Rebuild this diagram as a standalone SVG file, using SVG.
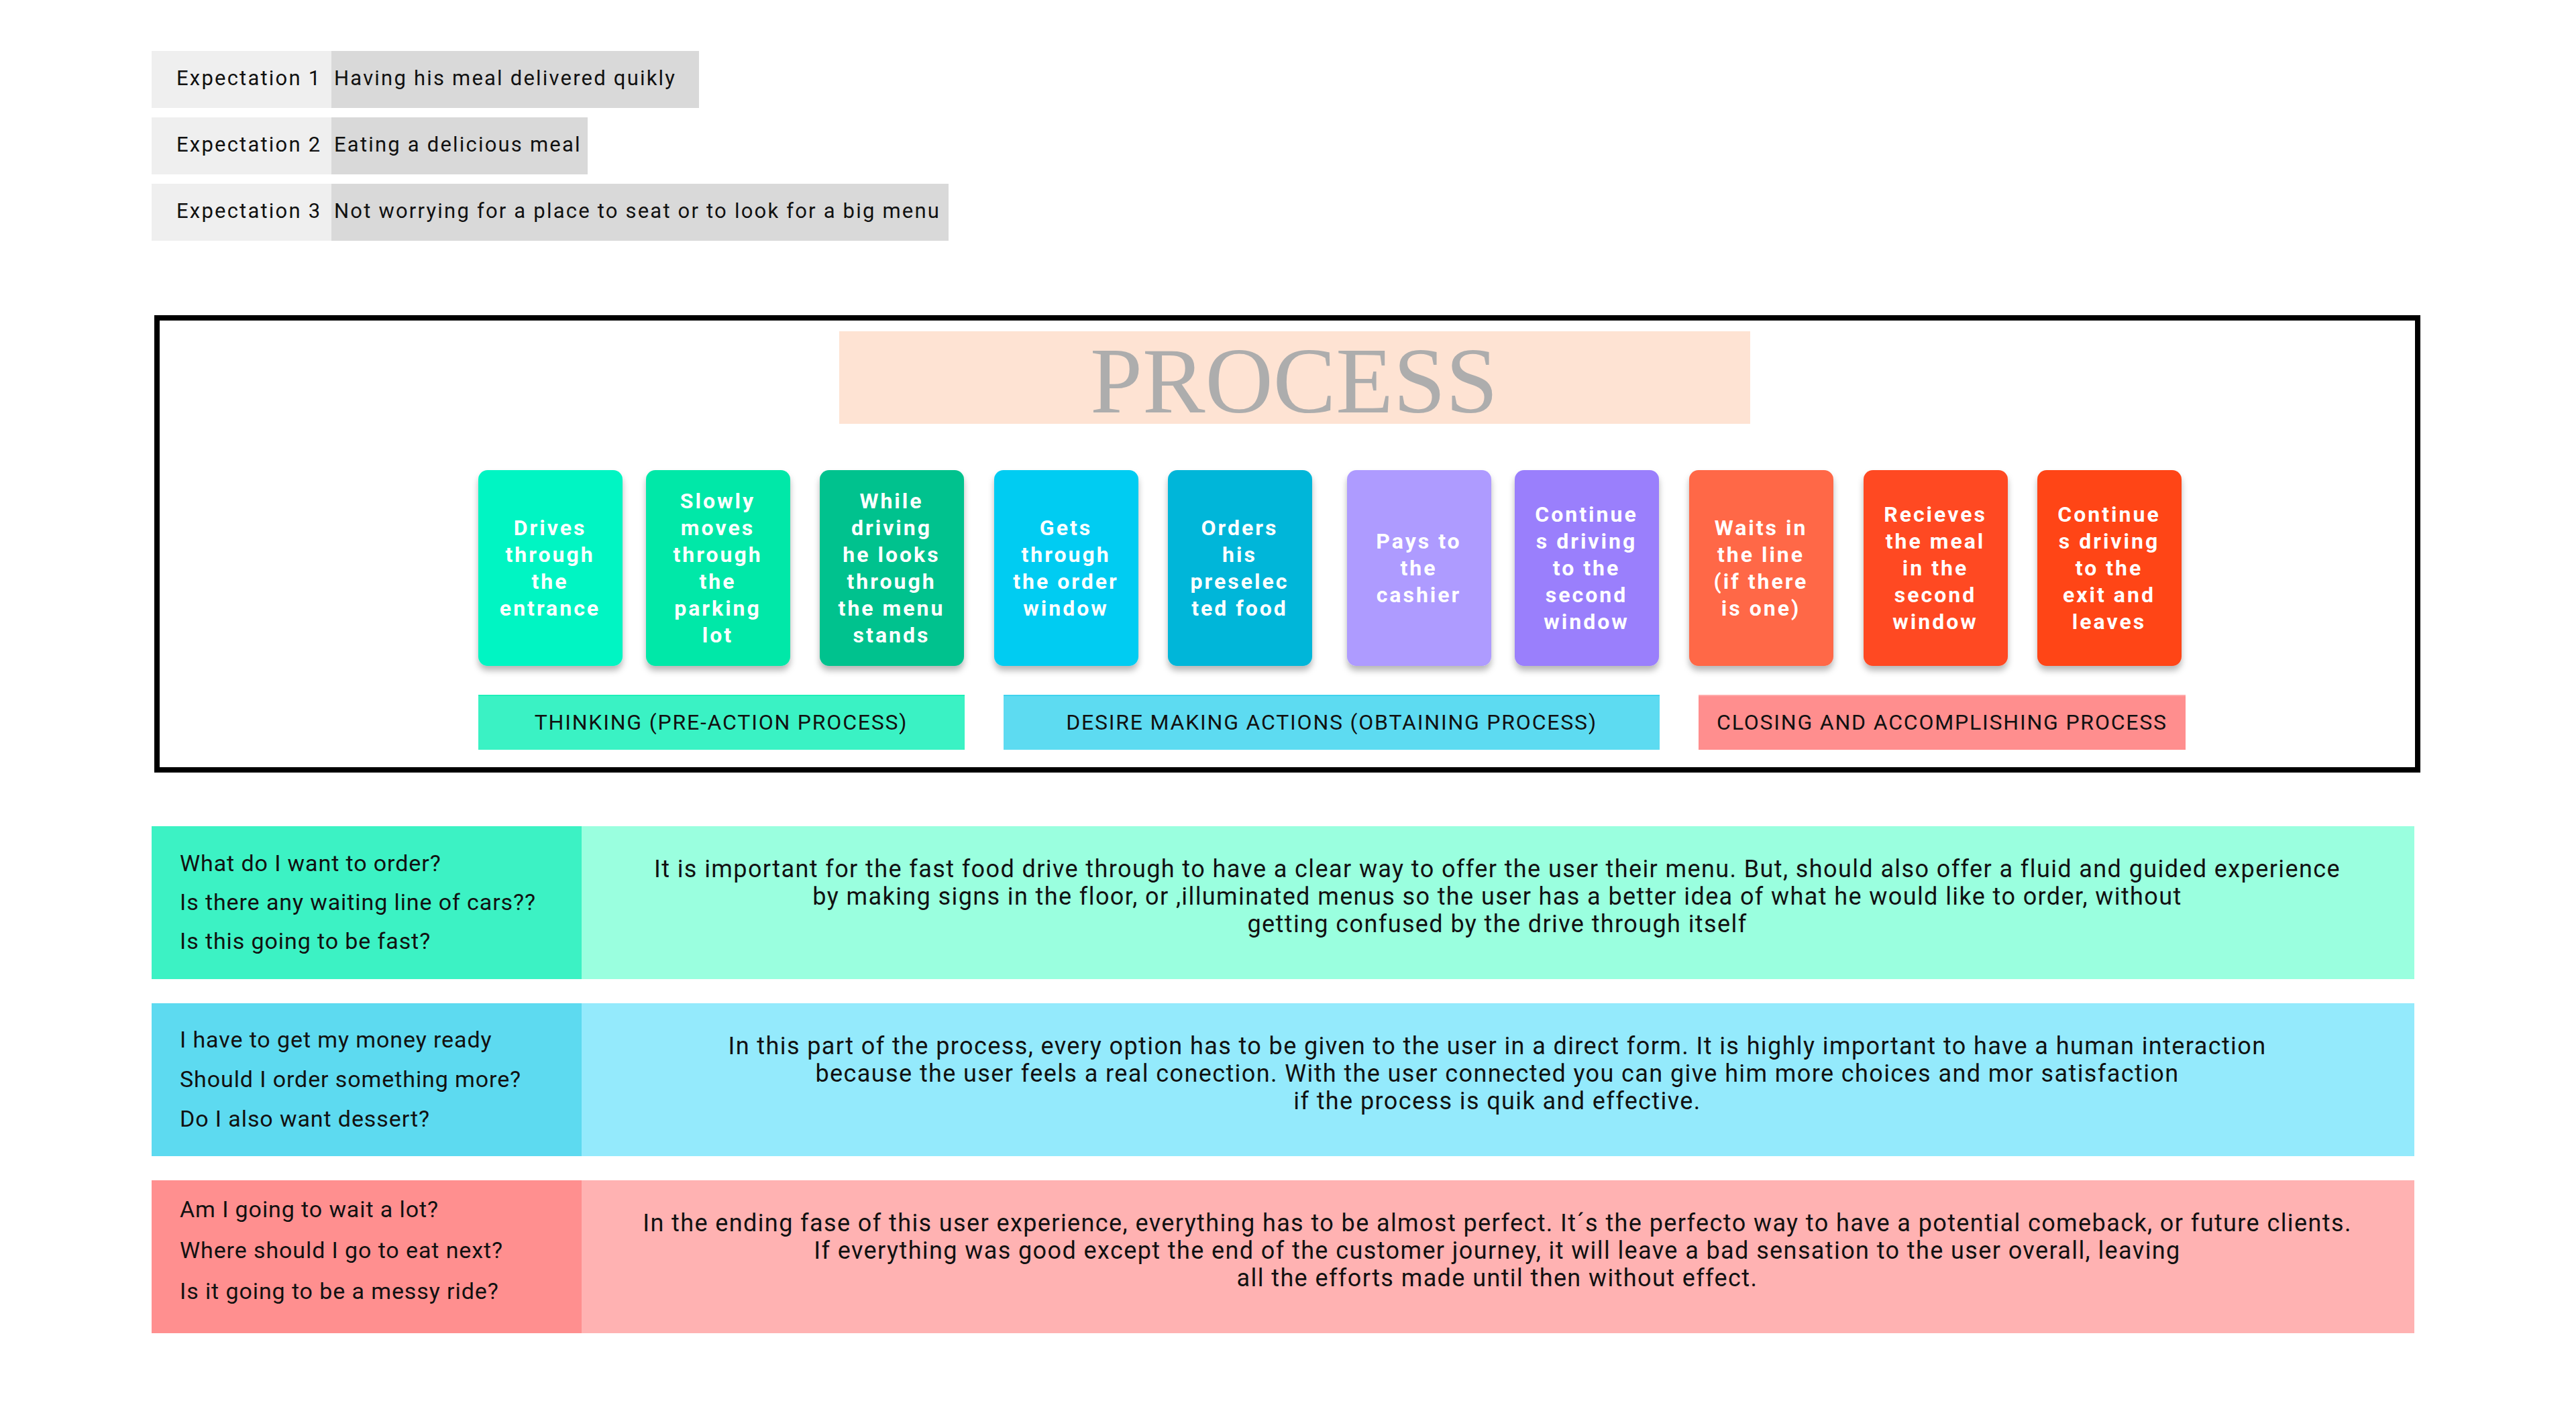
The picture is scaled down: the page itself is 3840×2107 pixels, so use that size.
<svg xmlns="http://www.w3.org/2000/svg" width="3840" height="2107" viewBox="0 0 3840 2107">
<style>
.exp{font-family:Roboto,"Liberation Sans",sans-serif;font-size:31px;fill:#111;letter-spacing:2.2px}
.card text{font-family:Roboto,"Liberation Sans",sans-serif;font-weight:bold;font-size:32px;fill:#fff;letter-spacing:3px;text-anchor:middle}
.bar{font-family:Roboto,"Liberation Sans",sans-serif;font-size:32px;fill:#111;letter-spacing:1.8px;text-anchor:middle}
.q{font-family:Roboto,"Liberation Sans",sans-serif;font-size:34px;fill:#111;letter-spacing:0.9px}
.body{font-family:Roboto,"Liberation Sans",sans-serif;font-size:36px;fill:#111;letter-spacing:1.4px;text-anchor:middle}
</style>
<defs>
<filter id="sh" x="-20%" y="-20%" width="140%" height="150%">
<feDropShadow dx="0" dy="7" stdDeviation="5" flood-color="#000" flood-opacity="0.28"/>
</filter>
</defs>
<rect width="3840" height="2107" fill="#fff"/>

<g id="expectations">
<g id="exp1">
<rect x="226" y="76" width="268" height="85" fill="#efefef"/>
<rect x="494" y="76" width="548" height="85" fill="#d9d9d9"/>
<text class="exp" x="263" y="127">Expectation 1</text>
<text class="exp" x="498" y="127">Having his meal delivered quikly</text>
</g>
<g id="exp2">
<rect x="226" y="175" width="268" height="85" fill="#efefef"/>
<rect x="494" y="175" width="382" height="85" fill="#d9d9d9"/>
<text class="exp" x="263" y="226">Expectation 2</text>
<text class="exp" x="498" y="226">Eating a delicious meal</text>
</g>
<g id="exp3">
<rect x="226" y="274" width="268" height="85" fill="#efefef"/>
<rect x="494" y="274" width="920" height="85" fill="#d9d9d9"/>
<text class="exp" x="263" y="325">Expectation 3</text>
<text class="exp" x="498" y="325">Not worrying for a place to seat or to look for a big menu</text>
</g>
</g>

<g id="process-frame">
<rect x="234" y="474" width="3370" height="674" fill="none" stroke="#000" stroke-width="8"/>
<rect x="1251" y="494" width="1358" height="138" fill="#fee3d3"/>
<text x="1929" y="615" font-family="'Liberation Serif',serif" font-size="139" fill="#adadad" text-anchor="middle" textLength="608" lengthAdjust="spacingAndGlyphs">PROCESS</text>
</g>

<g id="cards">
<g id="card1" class="card">
<rect x="713" y="701" width="215" height="292" rx="14" fill="#00f5c3" filter="url(#sh)"/>
<text x="820" y="798">Drives</text><text x="820" y="838">through</text><text x="820" y="878">the</text><text x="820" y="918">entrance</text>
</g>
<g id="card2" class="card">
<rect x="963" y="701" width="215" height="292" rx="14" fill="#00e8a8" filter="url(#sh)"/>
<text x="1070" y="758">Slowly</text><text x="1070" y="798">moves</text><text x="1070" y="838">through</text><text x="1070" y="878">the</text><text x="1070" y="918">parking</text><text x="1070" y="958">lot</text>
</g>
<g id="card3" class="card">
<rect x="1222" y="701" width="215" height="292" rx="14" fill="#00c28e" filter="url(#sh)"/>
<text x="1329" y="758">While</text><text x="1329" y="798">driving</text><text x="1329" y="838">he looks</text><text x="1329" y="878">through</text><text x="1329" y="918">the menu</text><text x="1329" y="958">stands</text>
</g>
<g id="card4" class="card">
<rect x="1482" y="701" width="215" height="292" rx="14" fill="#00ccf2" filter="url(#sh)"/>
<text x="1589" y="798">Gets</text><text x="1589" y="838">through</text><text x="1589" y="878">the order</text><text x="1589" y="918">window</text>
</g>
<g id="card5" class="card">
<rect x="1741" y="701" width="215" height="292" rx="14" fill="#00b6d9" filter="url(#sh)"/>
<text x="1848" y="798">Orders</text><text x="1848" y="838">his</text><text x="1848" y="878">preselec</text><text x="1848" y="918">ted food</text>
</g>
<g id="card6" class="card">
<rect x="2008" y="701" width="215" height="292" rx="14" fill="#ae9bff" filter="url(#sh)"/>
<text x="2115" y="818">Pays to</text><text x="2115" y="858">the</text><text x="2115" y="898">cashier</text>
</g>
<g id="card7" class="card">
<rect x="2258" y="701" width="215" height="292" rx="14" fill="#9a7ffc" filter="url(#sh)"/>
<text x="2365" y="778">Continue</text><text x="2365" y="818">s driving</text><text x="2365" y="858">to the</text><text x="2365" y="898">second</text><text x="2365" y="938">window</text>
</g>
<g id="card8" class="card">
<rect x="2518" y="701" width="215" height="292" rx="14" fill="#ff6847" filter="url(#sh)"/>
<text x="2625" y="798">Waits in</text><text x="2625" y="838">the line</text><text x="2625" y="878">(if there</text><text x="2625" y="918">is one)</text>
</g>
<g id="card9" class="card">
<rect x="2778" y="701" width="215" height="292" rx="14" fill="#ff4a21" filter="url(#sh)"/>
<text x="2885" y="778">Recieves</text><text x="2885" y="818">the meal</text><text x="2885" y="858">in the</text><text x="2885" y="898">second</text><text x="2885" y="938">window</text>
</g>
<g id="card10" class="card">
<rect x="3037" y="701" width="215" height="292" rx="14" fill="#ff4519" filter="url(#sh)"/>
<text x="3144" y="778">Continue</text><text x="3144" y="818">s driving</text><text x="3144" y="858">to the</text><text x="3144" y="898">exit and</text><text x="3144" y="938">leaves</text>
</g>
</g>

<g id="phases">
<g id="phase-thinking">
<rect x="713" y="1036" width="725" height="82" fill="#3af2c4"/>
<rect x="713" y="1036" width="725" height="2" fill="#1ef0b8"/>
<text class="bar" x="1075" y="1088">THINKING (PRE-ACTION PROCESS)</text>
</g>
<g id="phase-desire">
<rect x="1496" y="1036" width="978" height="82" fill="#5ddbf1"/>
<rect x="1496" y="1036" width="978" height="2" fill="#3fd3ee"/>
<text class="bar" x="1985" y="1088">DESIRE MAKING ACTIONS (OBTAINING PROCESS)</text>
</g>
<g id="phase-closing">
<rect x="2532" y="1036" width="726" height="82" fill="#ff8e8e"/>
<rect x="2532" y="1036" width="726" height="2" fill="#ffaaaa"/>
<text class="bar" x="2895" y="1088">CLOSING AND ACCOMPLISHING PROCESS</text>
</g>
</g>

<g id="rows">
<g id="row-thinking">
<rect x="226" y="1232" width="641" height="228" fill="#3cf2c4"/>
<rect x="867" y="1232" width="2732" height="228" fill="#9affdf"/>
<text class="q" x="268" y="1299">What do I want to order?</text>
<text class="q" x="268" y="1357">Is there any waiting line of cars??</text>
<text class="q" x="268" y="1415">Is this going to be fast?</text>
<text class="body" x="2232" y="1308">It is important for the fast food drive through to have a clear way to offer the user their menu. But, should also offer a fluid and guided experience</text>
<text class="body" x="2232" y="1349">by making signs in the floor, or ,illuminated menus so the user has a better idea of what he would like to order, without</text>
<text class="body" x="2232" y="1390">getting confused by the drive through itself</text>
</g>
<g id="row-desire">
<rect x="226" y="1496" width="641" height="228" fill="#5ddaf0"/>
<rect x="867" y="1496" width="2732" height="228" fill="#94eafc"/>
<text class="q" x="268" y="1562">I have to get my money ready</text>
<text class="q" x="268" y="1621">Should I order something more?</text>
<text class="q" x="268" y="1680">Do I also want dessert?</text>
<text class="body" x="2232" y="1572">In this part of the process, every option has to be given to the user in a direct form. It is highly important to have a human interaction</text>
<text class="body" x="2232" y="1613">because the user feels a real conection. With the user connected you can give him more choices and mor satisfaction</text>
<text class="body" x="2232" y="1654">if the process is quik and effective.</text>
</g>
<g id="row-closing">
<rect x="226" y="1760" width="641" height="228" fill="#ff8f8f"/>
<rect x="867" y="1760" width="2732" height="228" fill="#ffb2b2"/>
<text class="q" x="268" y="1815">Am I going to wait a lot?</text>
<text class="q" x="268" y="1876">Where should I go to eat next?</text>
<text class="q" x="268" y="1937">Is it going to be a messy ride?</text>
<text class="body" x="2232" y="1836">In the ending fase of this user experience, everything has to be almost perfect. It´s the perfecto way to have a potential comeback, or future clients.</text>
<text class="body" x="2232" y="1877">If everything was good except the end of the customer journey, it will leave a bad sensation to the user overall, leaving</text>
<text class="body" x="2232" y="1918">all the efforts made until then without effect.</text>
</g>
</g>
</svg>
